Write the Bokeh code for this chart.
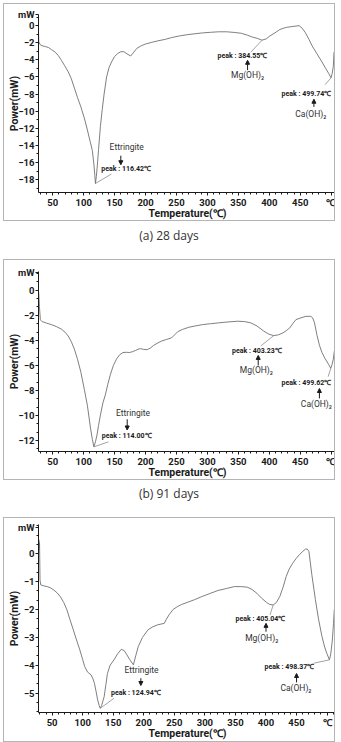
import math
from bokeh.plotting import figure
from bokeh.layouts import column
from bokeh.models import Label, Arrow, NormalHead, Div, Range1d, FixedTicker
from bokeh.embed import file_html
from bokeh.resources import INLINE

# ---------------- data ----------------
X_TICKS = [50, 100, 150, 200, 250, 300, 350, 400, 450, 500]
X_MINOR = list(range(30, 511, 10))
X_LABEL_OVERRIDE = {500: "℃"}

# (a) 28 days
T1 = [26.5, 27.5, 30, 33, 38, 43, 48, 54, 59, 64, 69, 75, 80, 85, 90, 95.5, 101, 106, 111, 114,
      116.5, 118, 119, 120.5, 122, 124, 127, 130, 133, 137, 141, 145, 150, 155, 160, 165, 170, 176,
      181, 186, 193, 200, 210, 220, 232, 242, 255, 268, 280, 292, 305, 318, 331, 344, 355, 365,
      373, 381, 388, 395, 401, 409, 417, 423, 428, 438, 448, 453, 458, 464, 469, 477, 485, 491,
      496, 499.7, 501.5, 503.3, 504.5]
P1 = [0.5, -1.9, -2.25, -2.35, -2.45, -2.55, -2.8, -3.1, -3.5, -4.05, -4.65, -5.4, -6.2, -7.3,
      -8.4, -9.5, -10.8, -12.2, -13.7, -14.6, -16.2, -17.5, -18.45, -17.6, -16.4, -14.5, -11.8,
      -9.8, -8.0, -6.0, -4.9, -4.25, -3.6, -3.25, -3.05, -3.05, -3.3, -3.55, -3.1, -2.65, -2.35,
      -2.15, -1.95, -1.78, -1.6, -1.4, -1.2, -1.05, -0.95, -0.85, -0.78, -0.72, -0.72, -0.8, -0.9,
      -1.13, -1.35, -1.5, -1.7, -1.55, -1.2, -0.85, -0.45, -0.3, -0.2, -0.1, 0.0, -0.3, -0.8,
      -1.6, -2.35, -3.3, -4.25, -5.0, -5.6, -6.1, -5.6, -4.8, -3.1]
Y1_TICKS = [1.25, 0, -2, -4, -6, -8, -10, -12, -14, -16, -18]
Y1_MINOR = [v * 1.0 for v in range(1, -20, -1)]
Y1_OVERRIDE = {1.25: "mW"}

# (b) 91 days
T2 = [26.5, 27.5, 28.5, 30, 32.8, 40, 48.5, 56, 64, 70, 75, 80, 85, 90, 95.5, 101, 106, 111, 114,
      116.5, 119, 121.5, 124, 127, 131, 135, 139, 143, 148, 153, 158, 163.5, 169, 174, 179, 184,
      188, 192, 197, 202.7, 208, 213, 220, 226, 234, 242, 247, 252, 260, 270, 280, 292, 305, 318,
      333, 349, 360, 370, 380, 391, 399, 407, 415, 422, 428, 433, 438, 443, 451, 459, 467, 470,
      473, 477, 481, 485, 490, 495.6, 499.2, 501.5, 503.4, 505]
P2 = [0.2, -0.3, -1.3, -2.35, -2.5, -2.62, -2.75, -2.9, -3.1, -3.35, -3.65, -4.1, -4.7, -5.5,
      -6.55, -7.9, -9.2, -11.0, -11.9, -12.5, -12.1, -11.55, -10.8, -9.97, -9.0, -8.35, -7.5,
      -6.75, -6.0, -5.5, -5.15, -4.97, -4.95, -4.97, -4.9, -4.8, -4.7, -4.66, -4.72, -4.74, -4.6,
      -4.4, -4.2, -4.05, -3.92, -3.8, -3.55, -3.3, -3.12, -2.95, -2.85, -2.74, -2.67, -2.6, -2.53,
      -2.47, -2.5, -2.6, -2.85, -3.26, -3.5, -3.62, -3.55, -3.4, -3.2, -3.0, -2.65, -2.34, -2.2,
      -2.08, -2.08, -2.2, -2.6, -3.6, -4.4, -4.97, -5.45, -5.9, -6.23, -5.9, -5.5, -4.84]
Y2_TICKS = [1.45, 0, -2, -4, -6, -8, -10, -12]
Y2_MINOR = [v * 2.0 / 3.0 for v in range(2, -20, -1)]
Y2_OVERRIDE = {1.45: "mW"}

# (c) third panel
T3 = [27.8, 28.3, 28.9, 29.4, 30.2, 31.5, 36, 42, 47, 52.7, 58, 63.4, 69, 74, 79, 84.6, 90, 95.3,
      100, 103.3, 108, 113.8, 117, 119.2, 122, 124.5, 127, 128.8, 131, 133, 135.2, 138, 140.5, 145,
      151.2, 157, 163.3, 168, 172.4, 177, 183, 187, 191, 198, 207, 215, 223, 233.5, 237, 241.5,
      248, 254.9, 262, 270.8, 283, 294.8, 308, 321.3, 335, 348, 360, 369.2, 377, 385.1, 393,
      401.1, 406, 411.8, 417, 422.5, 428, 433, 438, 443.7, 449, 454.4, 460, 464.9, 467.5, 470.3,
      475, 480.9, 486, 491.6, 496, 499.6, 503.8, 506, 508.6, 510.5, 511.8]
P3 = [0.0, 0.5, 0.15, 0.4, -0.95, -1.12, -1.15, -1.18, -1.22, -1.3, -1.4, -1.54, -1.75, -2.0,
      -2.35, -2.73, -3.1, -3.45, -3.8, -4.05, -4.25, -4.35, -4.5, -4.65, -4.95, -5.25, -5.45,
      -5.55, -5.45, -5.3, -5.13, -4.7, -4.3, -4.0, -3.81, -3.6, -3.43, -3.48, -3.63, -3.8, -3.99,
      -3.65, -3.33, -3.0, -2.73, -2.62, -2.55, -2.5, -2.35, -2.19, -2.0, -1.9, -1.82, -1.75,
      -1.65, -1.54, -1.43, -1.32, -1.25, -1.18, -1.18, -1.2, -1.28, -1.42, -1.6, -1.75, -1.82,
      -1.84, -1.75, -1.54, -1.2, -0.82, -0.55, -0.34, -0.18, -0.04, 0.08, 0.17, 0.17, 0.08,
      -0.75, -1.65, -2.35, -2.97, -3.35, -3.58, -3.81, -3.6, -3.1, -2.5, -2.0]
Y3_TICKS = [0.95, 0, -1, -2, -3, -4, -5]
Y3_MINOR = [v / 3.0 for v in range(3, -18, -1)]
Y3_OVERRIDE = {0.95: "mW"}

# annotations: peak texts, compound names (text, x, y)
PEAKS1 = [("peak : 116.42℃", 168.7, -16.75), ("peak : 384.55℃", 356.4, -3.5), ("peak : 499.74℃", 460.0, -8.04)]
NAMES1 = [("Ettringite", 169.5, -14.2), ("Mg(OH)₂", 364.8, -5.76), ("Ca(OH)₂", 467.0, -10.3)]
ARROWS1 = [(160.0, -15.2, -16.25), (364.8, -5.2, -4.05), (472.0, -9.5, -8.6)]
LEADERS1 = [(119.0, -18.45, 144.6, -17.35), (388.3, -1.7, 370.0, -3.1), (499.7, -6.1, 490.0, -6.9)]

PEAKS2 = [("peak : 114.00℃", 169.5, -11.65), ("peak : 403.23℃", 380.0, -4.87), ("peak : 499.62℃", 460.0, -7.4)]
NAMES2 = [("Ettringite", 179.7, -9.76), ("Mg(OH)₂", 379.0, -6.4), ("Ca(OH)₂", 476.0, -9.08)]
ARROWS2 = [(170.3, -10.3, -11.15), (382.0, -6.0, -5.2), (480.9, -8.63, -7.84)]
LEADERS2 = [(116.5, -12.5, 140.0, -12.1), (407.0, -3.62, 386.0, -4.45), (499.2, -6.23, 495.0, -6.9)]

PEAKS3 = [("peak : 124.94℃", 187.0, -5.01), ("peak : 405.04℃", 391.0, -2.34), ("peak : 498.37℃", 438.4, -4.05)]
NAMES3 = [("Ettringite", 196.3, -4.17), ("Mg(OH)₂", 393.0, -3.04), ("Ca(OH)₂", 449.0, -4.81)]
ARROWS3 = [(195.2, -4.47, -4.73), (400.0, -2.8, -2.5), (450.0, -4.62, -4.3)]
LEADERS3 = [(128.8, -5.55, 151.2, -5.19), (411.8, -1.84, 406.5, -2.2), (503.8, -3.81, 478.3, -3.93)]

CAPTIONS = ["(a) 28 days", "(b) 91 days"]

FONT = "Roboto"
INK = "#1a1a1a"


def build_panel(T, P, height, borders, xr, yr, yticks, yminor, yover, peaks, names, arrows,
                leaders, margin):
    left, right, top, bottom = borders
    p = figure(width=332, height=height, x_range=Range1d(*xr), y_range=Range1d(*yr),
               output_backend="svg", toolbar_location=None,
               min_border_left=left, min_border_right=right,
               min_border_top=top, min_border_bottom=bottom,
               margin=margin,
               styles={"border": "1px solid #b4b4b4", "box-sizing": "border-box"})
    p.xgrid.visible = False
    p.ygrid.visible = False
    p.outline_line_color = None
    p.background_fill_color = "white"
    p.border_fill_color = "white"

    p.line(T, P, line_color="#707070", line_width=0.9)

    xa = p.xaxis[0]
    xa.ticker = FixedTicker(ticks=X_TICKS, minor_ticks=X_MINOR)
    xa.major_label_overrides = X_LABEL_OVERRIDE
    xa.axis_label = "Temperature(℃)"
    ya = p.yaxis[0]
    ya.ticker = FixedTicker(ticks=yticks, minor_ticks=yminor)
    ya.major_label_overrides = yover
    ya.axis_label = "Power(mW)"
    for ax in (xa, ya):
        ax.axis_line_color = INK
        ax.major_tick_line_color = INK
        ax.minor_tick_line_color = INK
        ax.major_tick_out = 3
        ax.major_tick_in = 0
        ax.minor_tick_out = 2
        ax.minor_tick_in = 0
        ax.major_label_text_font = FONT
        ax.major_label_text_font_style = "bold"
        ax.major_label_text_font_size = "9.5px"
        ax.major_label_text_color = INK
        ax.major_label_standoff = 1
        ax.axis_label_text_font = FONT
        ax.axis_label_text_font_style = "bold"
        ax.axis_label_text_font_size = "10.5px"
        ax.axis_label_text_color = INK
    xa.axis_label_standoff = -4
    ya.axis_label_standoff = -6

    # leader lines
    p.segment(x0=[l[0] for l in leaders], y0=[l[1] for l in leaders],
              x1=[l[2] for l in leaders], y1=[l[3] for l in leaders],
              line_color="#8c8c8c", line_width=0.8)

    for txt, x, y in peaks:
        p.add_layout(Label(x=x, y=y, text=txt, text_align="center", text_baseline="middle",
                           text_font=FONT, text_font_style="bold", text_font_size="7px",
                           text_color=INK))
    for txt, x, y in names:
        p.add_layout(Label(x=x, y=y, text=txt, text_align="center", text_baseline="middle",
                           text_font=FONT, text_font_size="8.5px", text_color="#333333"))
    for x, y0, y1 in arrows:
        p.add_layout(Arrow(x_start=x, y_start=y0, x_end=x, y_end=y1,
                           end=NormalHead(size=4, fill_color=INK, line_color=INK),
                           line_color=INK, line_width=1))
    return p


def caption(text, height, pad):
    return Div(text=f'<div style="width:332px;text-align:center;font-family:\'Open Sans\';'
                    f'font-size:12px;color:#333;padding-top:{pad}px">{text}</div>',
               width=332, height=height, margin=(0, 0, 0, 3))


p1 = build_panel(T1, P1, 218, (25, 0, 10, 25), (27.0, 508.5), (-19.5, 1.3), Y1_TICKS, Y1_MINOR,
                 Y1_OVERRIDE, PEAKS1, NAMES1, ARROWS1, LEADERS1, (3, 0, 0, 3))
p2 = build_panel(T2, P2, 221, (25, 0, 11, 28), (27.0, 508.5), (-12.87, 1.5), Y2_TICKS, Y2_MINOR,
                 Y2_OVERRIDE, PEAKS2, NAMES2, ARROWS2, LEADERS2, (0, 0, 0, 3))
p3 = build_panel(T3, P3, 225, (26, 0, 6, 31), (27.7, 515.4), (-5.7, 1.05), Y3_TICKS, Y3_MINOR,
                 Y3_OVERRIDE, PEAKS3, NAMES3, ARROWS3, LEADERS3, (0, 0, 0, 3))

layout = column(p1, caption(CAPTIONS[0], 38, 6), p2, caption(CAPTIONS[1], 37, 5), p3, spacing=0)

open("out.html", "w").write(file_html(layout, INLINE))
